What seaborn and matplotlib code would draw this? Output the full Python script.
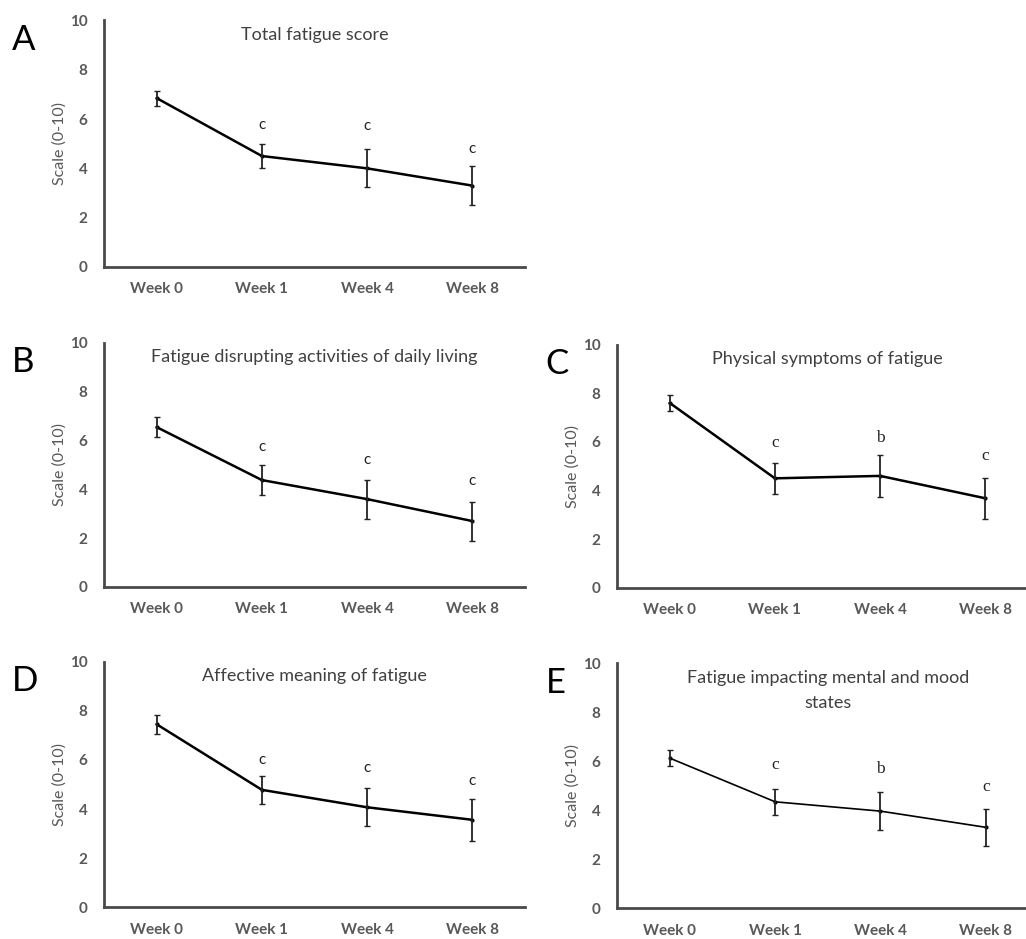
import matplotlib
matplotlib.use("Agg")
import matplotlib.pyplot as plt
import seaborn as sns
import pandas as pd

sns.set_style("white")
plt.rcParams['font.family'] = ['Lato', 'DejaVu Sans']

weeks = ["Week 0", "Week 1", "Week 4", "Week 8"]

# means and error bars
total_mean = [6.85, 4.5, 4.0, 3.3]
total_err = [0.3, 0.5, 0.77, 0.8]
adl_mean = [6.55, 4.38, 3.6, 2.7]
adl_err = [0.4, 0.6, 0.8, 0.8]
phys_mean = [7.6, 4.5, 4.6, 3.68]
phys_err = [0.32, 0.65, 0.85, 0.85]
affect_mean = [7.45, 4.78, 4.07, 3.56]
affect_err = [0.38, 0.57, 0.78, 0.85]
mood_mean = [6.13, 4.35, 3.97, 3.31]
mood_err = [0.32, 0.52, 0.78, 0.76]

# significance letters and their heights
total_sig = ["", "c", "c", "c"]
total_sig_y = [0, 5.75, 5.7, 4.8]
adl_sig = ["", "c", "c", "c"]
adl_sig_y = [0, 5.75, 5.2, 4.35]
phys_sig = ["", "c", "b", "c"]
phys_sig_y = [0, 5.97, 6.17, 5.41]
affect_sig = ["", "c", "c", "c"]
affect_sig_y = [0, 6.0, 5.66, 5.14]
mood_sig = ["", "c", "b", "c"]
mood_sig_y = [0, 5.85, 5.67, 4.96]

panels = [
    ("A", "Total fatigue score", total_mean, total_err, total_sig, total_sig_y,
     [0.1014, 0.7157, 0.4103, 0.2625], False, 1.8),
    ("B", "Fatigue disrupting activities of daily living", adl_mean, adl_err, adl_sig, adl_sig_y,
     [0.1014, 0.3749, 0.4103, 0.2599], False, 1.8),
    ("C", "Physical symptoms of fatigue", phys_mean, phys_err, phys_sig, phys_sig_y,
     [0.6014, 0.3740, 0.4103, 0.2591], True, 1.8),
    ("D", "Affective meaning of fatigue", affect_mean, affect_err, affect_sig, affect_sig_y,
     [0.1014, 0.0338, 0.4103, 0.2616], False, 1.8),
    ("E", "Fatigue impacting mental and mood\nstates", mood_mean, mood_err, mood_sig, mood_sig_y,
     [0.6017, 0.0326, 0.4103, 0.2609], True, 1.2),
]

fig = plt.figure(figsize=(10.26, 9.39), dpi=100)
grey = "#595959"

for letter, title, mean, err, sig, sig_y, rect, serif, lw in panels:
    ax = fig.add_axes(rect)
    df = pd.DataFrame({"week": weeks, "score": mean})
    sns.lineplot(data=df, x="week", y="score", ax=ax, color="black", lw=lw,
                 marker="o", markersize=3, markeredgewidth=0)
    ax.errorbar(weeks, mean, yerr=err, fmt="none", ecolor="#222222",
                elinewidth=1.3, capsize=2, capthick=1)
    for w, s, y in zip(weeks, sig, sig_y):
        if s:
            if serif:
                ax.text(w, y, s, ha="center", va="center", fontsize=12.5,
                        family=["Liberation Serif"], color="#222222")
            else:
                ax.text(w, y, s, ha="center", va="center", fontsize=11,
                        color="#222222")
    ax.set_xlim(-0.5, 3.5)
    ax.set_ylim(0, 10)
    ax.set_yticks([0, 2, 4, 6, 8, 10])
    ax.tick_params(axis="both", length=0, colors=grey, labelsize=11)
    ax.tick_params(axis="y", pad=12)
    ax.tick_params(axis="x", pad=11)
    for t in ax.get_xticklabels() + ax.get_yticklabels():
        t.set_fontweight("bold")
    ax.set_xlabel("")
    ax.set_ylabel("Scale (0-10)", fontsize=11.5, color=grey, labelpad=2)
    sns.despine(ax=ax)
    for side in ["left", "bottom"]:
        ax.spines[side].set_color("#4a4a4a")
        ax.spines[side].set_linewidth(2)
    ax.text(0.5, 0.975, title, transform=ax.transAxes, ha="center", va="top",
            fontsize=13, color="#404040", linespacing=1.75)
    ax.text(-0.22 if letter in "ABD" else -0.17, 0.92, letter, transform=ax.transAxes,
            ha="left", va="center", fontsize=25, color="black")

fig.savefig("out.png", dpi=100)
